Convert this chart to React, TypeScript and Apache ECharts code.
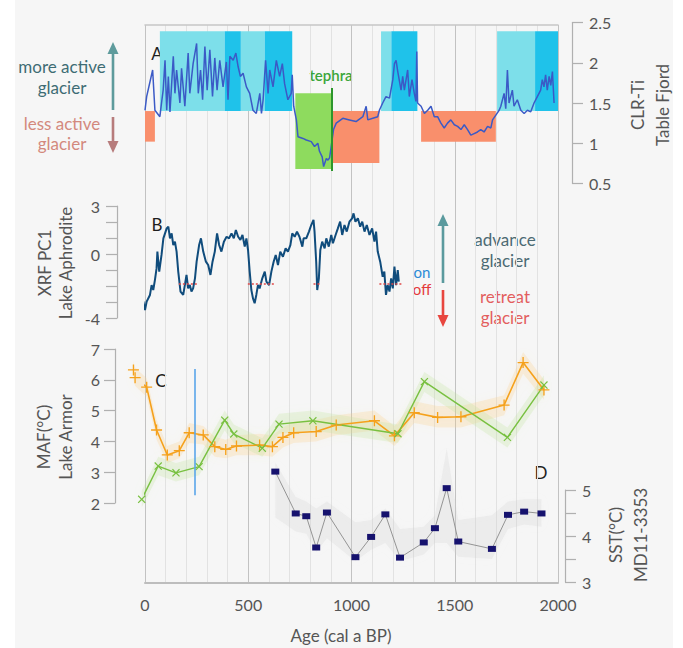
import React, { useEffect, useRef } from "react";
import * as echarts from "echarts";

const FONT = "Lato, 'Open Sans', sans-serif";
const TEXT = "#555555";
const AXIS = "#b0b0b0";

// ---------- Panel A : CLR-Ti, Table Fjord ----------
const aYears = [0,8,37,48,72,80,88,97,105,113,121,137,145,153,169,177,193,209,217,233,250,258,269,279,290,301,314,327,338,349,362,378,394,402,411,427,440,451,462,475,491,507,523,539,556,564,572,584,596,604,620,636,652,665,676,692,708,713,720,733,741,765,781,805,821,837,845,858,865,878,886,894,913,926,958,990,1022,1055,1071,1079,1103,1127,1135,1151,1167,1184,1200,1208,1216,1224,1240,1248,1256,1272,1280,1293,1304,1312,1316,1320,1337,1353,1369,1385,1401,1417,1433,1449,1465,1481,1498,1514,1530,1546,1562,1578,1594,1610,1626,1642,1659,1675,1683,1699,1715,1723,1739,1747,1755,1763,1779,1787,1803,1820,1836,1852,1868,1884,1900,1916,1924,1932,1940,1948,1957,1965,1973,1981];
const aValues = [1.41,1.58,1.91,1.41,1.33,1.50,1.66,2.03,1.41,1.83,1.39,2.08,1.62,1.91,1.50,1.93,1.46,2.12,1.62,1.99,2.24,1.62,1.91,1.54,2.20,1.66,2.16,1.58,2.06,1.66,2.03,1.70,2.01,1.54,2.08,2.03,2.12,1.95,1.83,1.87,1.70,1.62,1.41,1.37,1.62,1.37,1.54,2.03,1.62,1.91,1.70,2.03,1.83,1.99,1.74,1.54,1.62,1.85,1.46,1.29,1.08,1.06,1.04,1.02,0.96,1.00,0.90,0.83,0.71,0.81,0.79,0.82,1.17,1.25,1.31,1.29,1.27,1.33,1.46,1.29,1.31,1.33,1.41,1.50,1.58,1.56,1.79,1.99,2.03,1.89,1.66,1.83,1.66,1.91,1.58,1.79,1.62,1.52,2.14,1.50,1.46,1.37,1.41,1.46,1.33,1.33,1.25,1.19,1.25,1.29,1.23,1.21,1.17,1.23,1.17,1.10,1.12,1.14,1.17,1.14,1.21,1.19,1.29,1.35,1.41,1.46,1.62,1.43,1.91,1.50,1.66,1.46,1.54,1.41,1.37,1.41,1.39,1.50,1.58,1.66,1.79,1.70,1.85,1.66,1.83,1.72,1.89,1.50];
const aThreshold = 1.4;
const aActiveTop = 2.39;
const aActiveLight = [[72, 386], [464, 580], [1143, 1193], [1705, 1889]];
const aActiveDark = [[386, 464], [580, 713], [1193, 1319], [1889, 2013]];
const aLessActive = [[-10, 48, 1.02], [908, 1135, 0.755], [1337, 1699, 1.02]];
const aTephra = [728, 903, 0.68, 1.62];
const aTephraLine = [903, 0.655, 1.686];

// ---------- Panel B : XRF PC1, Lake Aphrodite ----------
const bYears = [-56,-40,-32,-24,-8,0,8,24,32,40,48,56,60,69,80,89,105,113,121,129,137,145,153,161,172,185,193,201,209,217,225,233,242,250,262,271,282,295,306,317,327,338,349,359,370,382,395,407,419,430,440,451,462,472,483,491,499,507,515,523,531,539,547,555,568,580,588,601,612,623,633,644,655,668,681,692,704,713,725,736,748,762,768,781,794,805,816,821,829,834,842,849,858,870,878,890,902,910,923,934,945,955,966,977,990,1003,1010,1019,1031,1042,1052,1063,1074,1087,1100,1111,1119,1127,1139,1151,1159,1167,1175,1184,1192,1200,1208,1216,1224,1229];
const bValues = [-3.19,-2.15,-2.56,-2.88,-2.98,-3.50,-2.98,-2.56,-1.94,-2.25,-1.63,-0.90,0.15,-1.10,-0.06,0.98,1.60,1.71,0.98,1.29,0.56,0.77,0.15,-1.10,-2.35,-2.56,-1.94,-1.31,-2.15,-1.94,-2.35,-2.15,-1.52,-0.48,0.56,0.98,0.15,-0.48,-0.69,-1.31,-0.48,0.15,1.29,0.56,0.15,0.77,1.08,0.98,1.29,0.98,1.50,1.08,0.88,1.19,0.46,0.98,0.25,-1.10,-2.25,-2.77,-3.08,-2.56,-1.94,-2.15,-1.52,-1.10,-1.73,-1.94,-1.10,-0.48,-0.06,-0.69,0.15,-0.17,0.35,0.15,0.56,1.29,1.08,1.40,1.08,0.46,0.98,0.98,1.40,1.81,2.13,1.40,-0.48,-2.25,-1.52,0.25,0.77,0.35,0.98,0.46,1.19,0.67,1.19,1.60,2.02,1.19,1.81,1.40,2.02,2.23,2.54,2.02,2.23,1.71,2.02,1.40,1.81,1.19,1.60,0.77,1.40,0.15,-0.48,-1.42,-1.10,-2.56,-1.94,-2.35,-1.52,-2.15,-0.79,-1.94,-1.00,-1.73];
const bOnOffLevel = -1.83;
const bOnOffRanges = [[-58, 63], [164, 251], [498, 628], [816, 845], [1135, 1242]];
const bTicksShown = [3, 0, -4];

// ---------- Panel C : MAF, Lake Armor ----------
const cOrangeYears = [-56,-48,8,56,108,166,214,282,338,391,443,555,617,668,720,829,926,1111,1208,1304,1417,1530,1739,1831,1932];
const cOrangeValues = [6.32,6.07,5.76,4.37,3.56,3.70,4.28,4.21,3.83,3.74,3.85,3.88,3.83,4.13,4.28,4.32,4.53,4.67,4.18,4.93,4.78,4.80,5.18,6.56,5.67];
const cOrangeLow = [6.0,5.8,5.45,4.05,3.3,3.45,3.95,3.9,3.5,3.45,3.55,3.55,3.5,3.8,3.95,4.0,4.2,4.35,3.85,4.6,4.45,4.45,4.85,6.2,5.35];
const cOrangeHigh = [6.6,6.4,6.05,4.7,3.85,4.0,4.6,4.5,4.15,4.05,4.2,4.25,4.2,4.45,4.65,4.7,4.85,5.0,4.5,5.3,5.15,5.15,5.5,6.9,6.0];
const cGreenYears = [-16,64,150,262,386,430,568,649,813,1225,1353,1755,1932];
const cGreenValues = [2.12,3.20,2.98,3.18,4.69,4.24,3.78,4.56,4.67,4.25,5.94,4.13,5.83];
const cGreenLow = [1.85,2.9,2.7,2.9,4.35,3.95,3.5,4.25,4.35,3.95,5.6,3.8,5.5];
const cGreenHigh = [2.4,3.5,3.3,3.5,5.0,4.55,4.1,4.9,5.0,4.55,6.25,4.45,6.15];
const cBlueLine = [242, 2.25, 6.35];

// ---------- Panel D : SST, MD11-3353 ----------
const dYears = [631,730,781,829,881,1019,1095,1164,1235,1350,1404,1461,1517,1680,1758,1836,1920];
const dValues = [5.40,4.49,4.43,3.75,4.51,3.54,3.98,4.47,3.53,3.86,4.17,5.04,3.88,3.72,4.46,4.53,4.49];
const dLow = [4.4,4.1,4.05,3.65,3.95,3.45,3.7,3.85,3.45,3.6,3.85,3.85,3.55,3.5,4.15,4.25,4.2];
const dHigh = [5.6,4.85,4.75,4.6,4.75,4.3,4.35,4.6,4.15,4.2,4.45,5.9,4.35,4.45,4.75,4.8,4.8];
const dOrangeLine = [1937, 3.52, 5.8];

const xTickInterval = 500;
const xMinorSplit = 5;

const CYAN_L = "#7ddfea";
const CYAN_D = "#1fc2ea";
const SALMON = "#f98f6c";
const GREEN_BOX = "#8edb5e";

const zip = (xs: number[], ys: number[]) => xs.map((x, i) => [x, ys[i]]);

const PLUS = "path://M4.4,0 L5.6,0 L5.6,4.4 L10,4.4 L10,5.6 L5.6,5.6 L5.6,10 L4.4,10 L4.4,5.6 L0,5.6 L0,4.4 L4.4,4.4 Z";

function band(xIdx: number, yIdx: number, xs: number[], lo: number[], hi: number[], color: string, blur: number) {
  return {
    type: "custom",
    xAxisIndex: xIdx,
    yAxisIndex: yIdx,
    silent: true,
    clip: false,
    z: 1,
    data: [[xs[0], lo[0]]],
    renderItem: (_p: any, api: any) => {
      const pts: number[][] = [];
      xs.forEach((x, i) => pts.push(api.coord([x, hi[i]])));
      for (let i = xs.length - 1; i >= 0; i--) pts.push(api.coord([xs[i], lo[i]]));
      return {
        type: "polygon",
        shape: { points: pts },
        style: { fill: color, shadowBlur: blur, shadowColor: color },
      };
    },
  };
}

const txt = (x: number, y: number, text: string, color: string, size = 16, extra: any = {}) => ({
  type: "text",
  x,
  y,
  silent: true,
  ...extra,
  style: {
    text,
    fill: color,
    fontSize: size,
    fontFamily: FONT,
    align: "center",
    verticalAlign: "middle",
    textAlign: "center",
    textVerticalAlign: "middle",
    lineHeight: extra.lineHeight || size * 1.3,
    fontWeight: extra.fontWeight || "normal",
  },
});

const arrow = (x: number, y1: number, y2: number, tip: number, color: string) => {
  const dir = tip < y1 ? 1 : -1;
  return [
    { type: "line", silent: true, shape: { x1: x, y1, x2: x, y2 }, style: { stroke: color, lineWidth: 2.6 } },
    {
      type: "polygon",
      silent: true,
      shape: { points: [[x - 5.5, tip + dir * 12], [x + 5.5, tip + dir * 12], [x, tip]] },
      style: { fill: color },
    },
  ];
};

const hiddenX = (gridIndex: number) => ({ gridIndex, type: "value", min: 0, max: 2000, show: false });

const yAxisBase = (gridIndex: number, position: string, offset: number, min: number, max: number, interval: number, margin: number, formatter?: any) => ({
  gridIndex,
  type: "value",
  position,
  offset,
  min,
  max,
  interval,
  axisLine: { show: true, onZero: false, lineStyle: { color: AXIS, width: 1.2 } },
  axisTick: { show: true, length: 11, lineStyle: { color: AXIS, width: 1.2 } },
  axisLabel: { color: TEXT, fontSize: 16, fontFamily: FONT, margin, formatter: formatter || ((v: number) => String(v)) },
  splitLine: { show: false },
});

function buildOption() {
  return {
    animation: false,
    backgroundColor: "transparent",
    grid: [
      { left: 145, right: 125, top: 25, bottom: 65 },
      { left: 145, right: 125, top: 22.5, height: 161 },
      { left: 145, right: 125, top: 206, height: 112 },
      { left: 145, right: 125, top: 349, height: 154 },
      { left: 145, right: 125, top: 490, height: 92 },
    ],
    xAxis: [
      {
        gridIndex: 0,
        type: "value",
        min: 0,
        max: 2000,
        interval: xTickInterval,
        axisLine: { show: true, onZero: false, lineStyle: { color: "#bdbdbd", width: 2 } },
        axisTick: { show: false },
        axisLabel: { color: TEXT, fontSize: 16, fontFamily: FONT, margin: 13, formatter: (v: number) => String(v) },
        splitLine: { show: true, lineStyle: { color: "#c2c2c2", width: 1 } },
        minorTick: { show: false, splitNumber: xMinorSplit },
        minorSplitLine: { show: true, lineStyle: { color: "#e2e2e2", width: 1 } },
      },
      {
        gridIndex: 0,
        type: "value",
        min: 0,
        max: 2000,
        position: "top",
        axisLine: { show: true, onZero: false, lineStyle: { color: "#c6c6c6", width: 1.5 } },
        axisTick: { show: false },
        axisLabel: { show: false },
        splitLine: { show: false },
      },
      hiddenX(1),
      hiddenX(2),
      hiddenX(3),
      hiddenX(4),
    ],
    yAxis: [
      { gridIndex: 0, type: "value", min: 0, max: 1, show: false },
      yAxisBase(1, "right", 14, 0.5, 2.5, 0.5, 17),
      yAxisBase(2, "left", 28, -4, 3, 1, 17, (v: number) => (bTicksShown.includes(v) ? String(v) : "")),
      yAxisBase(3, "left", 30, 2, 7, 1, 15),
      yAxisBase(4, "right", 7, 3, 5, 0.5, 17, (v: number) => (Number.isInteger(v) ? String(v) : "")),
    ],
    series: [
      // Panel A boxes
      {
        type: "line",
        xAxisIndex: 2,
        yAxisIndex: 1,
        data: zip(aYears, aValues),
        symbol: "none",
        silent: true,
        z: 1,
        lineStyle: { opacity: 0, width: 0 },
        markArea: {
          silent: true,
          data: [
            ...aActiveLight.map(([x1, x2]) => [
              { coord: [x1, aThreshold], itemStyle: { color: CYAN_L } },
              { coord: [x2, aActiveTop] },
            ]),
            ...aActiveDark.map(([x1, x2]) => [
              { coord: [x1, aThreshold], itemStyle: { color: CYAN_D } },
              { coord: [x2, aActiveTop] },
            ]),
            ...aLessActive.map(([x1, x2, lo]) => [
              { coord: [x1, lo], itemStyle: { color: SALMON } },
              { coord: [x2, aThreshold] },
            ]),
            [
              { coord: [aTephra[0], aTephra[2]], itemStyle: { color: GREEN_BOX } },
              { coord: [aTephra[1], aTephra[3]] },
            ],
          ],
        },
      },
      // Panel A line
      {
        type: "line",
        xAxisIndex: 2,
        yAxisIndex: 1,
        data: zip(aYears, aValues),
        symbol: "none",
        z: 3,
        lineStyle: { color: "#3b5ac6", width: 1.5 },
        markLine: {
          silent: true,
          symbol: "none",
          label: { show: false },
          data: [
            [
              { coord: [-10, aThreshold], lineStyle: { color: "#33404a", type: [2, 2], width: 1.3 } },
              { coord: [2000, aThreshold] },
            ],
            [
              { coord: [aTephraLine[0], aTephraLine[1]], lineStyle: { color: "#2c962c", type: "solid", width: 2 } },
              { coord: [aTephraLine[0], aTephraLine[2]] },
            ],
          ],
        },
      },
      // Panel B line
      {
        type: "line",
        xAxisIndex: 3,
        yAxisIndex: 2,
        data: zip(bYears, bValues),
        symbol: "none",
        clip: false,
        z: 3,
        lineStyle: { color: "#104c7c", width: 2 },
        markLine: {
          silent: true,
          symbol: "none",
          label: { show: false },
          lineStyle: { color: "#e04848", type: [2, 2], width: 1.5 },
          data: bOnOffRanges.map(([x1, x2]) => [{ coord: [x1, bOnOffLevel] }, { coord: [x2, bOnOffLevel] }]),
        },
      },
      // Panel C bands
      band(4, 3, cOrangeYears, cOrangeLow, cOrangeHigh, "rgba(250,205,130,0.24)", 10),
      band(4, 3, cGreenYears, cGreenLow, cGreenHigh, "rgba(190,225,150,0.24)", 10),
      // Panel D band
      band(5, 4, dYears, dLow, dHigh, "rgba(205,205,205,0.22)", 8),
      // Panel C orange
      {
        type: "line",
        xAxisIndex: 4,
        yAxisIndex: 3,
        data: zip(cOrangeYears, cOrangeValues),
        clip: false,
        z: 4,
        symbol: PLUS,
        symbolSize: 11,
        showAllSymbol: true,
        itemStyle: { color: "#f5a11c" },
        lineStyle: { color: "#f5a11c", width: 1.6 },
        markLine: {
          silent: true,
          symbol: "none",
          label: { show: false },
          data: [
            [
              { coord: [cBlueLine[0], cBlueLine[1]], lineStyle: { color: "#5aa6ea", type: "solid", width: 1.6 } },
              { coord: [cBlueLine[0], cBlueLine[2]] },
            ],
          ],
        },
      },
      // Panel C green
      {
        type: "line",
        xAxisIndex: 4,
        yAxisIndex: 3,
        data: zip(cGreenYears, cGreenValues),
        clip: false,
        z: 4,
        symbol: PLUS,
        symbolRotate: 45,
        symbolSize: 10,
        showAllSymbol: true,
        itemStyle: { color: "#78c040" },
        lineStyle: { color: "#78c040", width: 1.4 },
      },
      // Panel D
      {
        type: "line",
        xAxisIndex: 5,
        yAxisIndex: 4,
        data: zip(dYears, dValues),
        clip: false,
        z: 4,
        symbol: "rect",
        symbolSize: [8, 6],
        showAllSymbol: true,
        itemStyle: { color: "#16126e" },
        lineStyle: { color: "#8a8a8a", width: 0.9 },
        markLine: {
          silent: true,
          symbol: "none",
          label: { show: false },
          data: [
            [
              { coord: [dOrangeLine[0], dOrangeLine[1]], lineStyle: { color: "#f4a63c", type: "solid", width: 1.6 } },
              { coord: [dOrangeLine[0], dOrangeLine[2]] },
            ],
          ],
        },
      },
    ],
    graphic: [
      txt(157, 53, "A", "#1e1e1e", 17),
      txt(157, 224, "B", "#1e1e1e", 17),
      txt(161, 380, "C", "#1e1e1e", 17),
      txt(541, 472, "D", "#1e1e1e", 17),
      txt(331, 75, "tephra", "#3aa53a", 15, { fontWeight: 600 }),
      txt(62, 77, "more active\nglacier", "#3e6c74", 17, { lineHeight: 21 }),
      txt(62, 133, "less active\nglacier", "#d3897d", 17, { lineHeight: 20 }),
      ...arrow(113, 110, 50, 42, "#5e9b9c"),
      ...arrow(113, 117, 144, 153, "#b77c7c"),
      txt(422, 272, "on", "#2b8ad6", 15),
      txt(422, 289, "off", "#e43b3b", 15),
      ...arrow(443, 283, 222, 214, "#5b9a9e"),
      ...arrow(443, 290, 318, 327, "#e8463f"),
      txt(505, 250, "advance\nglacier", "#4c6a73", 17, { lineHeight: 21 }),
      txt(505, 307, "retreat\nglacier", "#e35e5e", 17, { lineHeight: 21 }),
      txt(650, 105, "CLR-Ti\nTable Fjord", TEXT, 17, { rotation: Math.PI / 2, lineHeight: 25 }),
      txt(55, 263, "XRF PC1\nLake Aphrodite", TEXT, 17, { rotation: Math.PI / 2, lineHeight: 21 }),
      txt(54, 437, "MAF(°C)\nLake Armor", TEXT, 17, { rotation: Math.PI / 2, lineHeight: 22 }),
      txt(628, 535, "SST(°C)\nMD11-3353", TEXT, 17, { rotation: Math.PI / 2, lineHeight: 25 }),
      txt(341, 635, "Age (cal a BP)", TEXT, 17),
    ],
  };
}

export default function App() {
  const ref = useRef<HTMLDivElement>(null);
  useEffect(() => {
    if (!ref.current) return;
    const chart = echarts.init(ref.current, undefined, { renderer: "svg", width: 683, height: 648 });
    chart.setOption(buildOption() as any);
    return () => chart.dispose();
  }, []);
  return (
    <div
      ref={ref}
      style={{
        position: "absolute",
        left: 0,
        top: 0,
        width: 683,
        height: 648,
        background: "linear-gradient(to right, #ffffff 15px, #f6f6f6 15px, #f6f6f6 673px, #ffffff 673px)",
      }}
    />
  );
}
